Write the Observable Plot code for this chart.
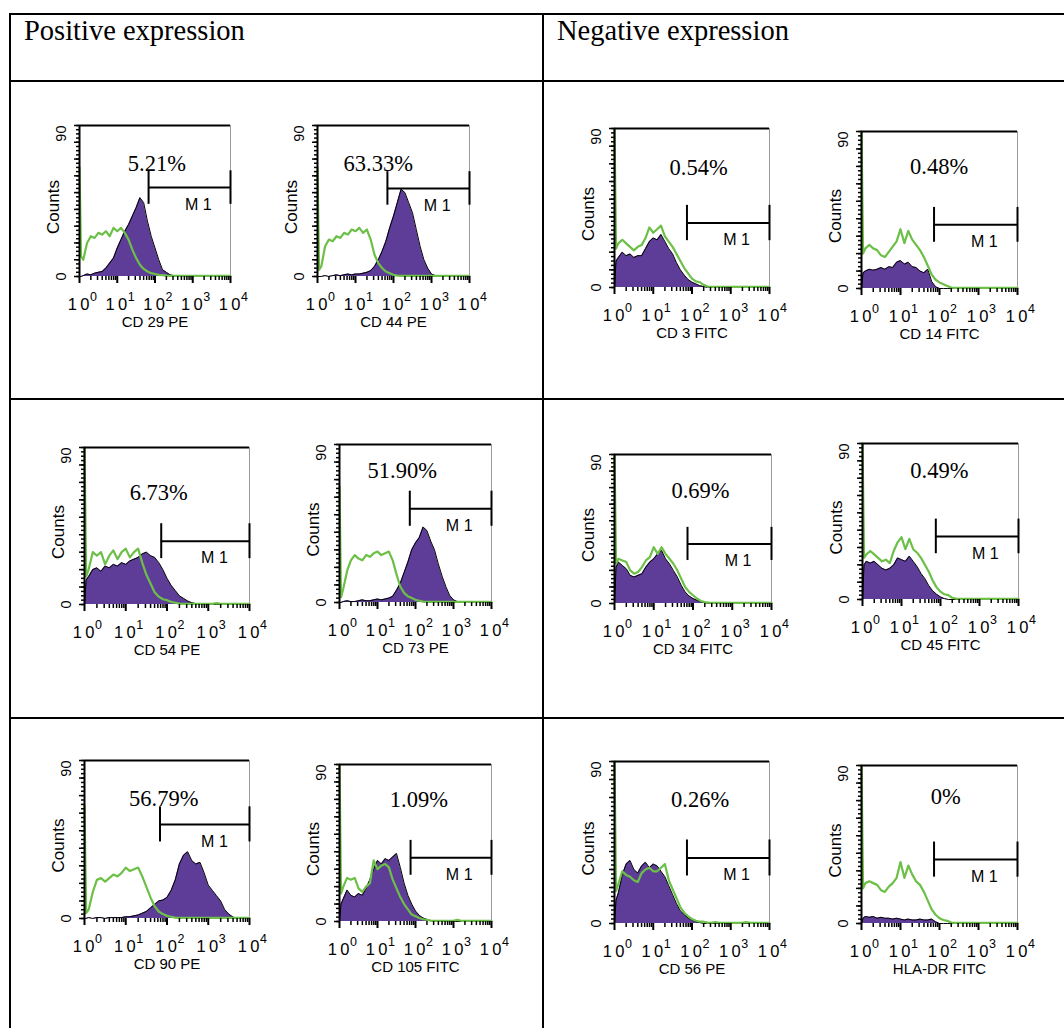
<!DOCTYPE html>
<html><head><meta charset="utf-8">
<script src="https://cdn.jsdelivr.net/npm/d3@7"></script>
<script src="https://cdn.jsdelivr.net/npm/@observablehq/plot@0.6"></script>
<style>
body{margin:0;background:#fff;}
#fig{position:relative;width:1064px;height:1028px;overflow:hidden;background:#fff;}
.ln{position:absolute;background:#000;}
.hdr{position:absolute;font-family:"Liberation Serif","Times New Roman",serif;font-size:28.5px;line-height:28px;color:#000;white-space:nowrap;}
.panel{position:absolute;}
.panel svg{overflow:visible;}
</style></head><body><div id="fig"></div>
<script>
// ---------- data ----------
// log10 fluorescence channel (bin start, decades 10^0 .. 10^4)
const channel = [0,0.04,0.1,0.2,0.3,0.4,0.5,0.6,0.7,0.8,0.9,1.0,1.1,1.2,1.3,1.4,1.5,1.6,1.7,1.8,1.9,2.0,2.1,2.2,2.3,2.4,2.5,2.6,2.7,2.8,2.9,3.0,3.1,3.2,3.3,3.4,3.5,3.6,3.7,3.8,3.9,4.0];
const groups = ["Positive expression", "Negative expression"];
const markers = ["CD 29 PE","CD 44 PE","CD 3 FITC","CD 14 FITC","CD 54 PE","CD 73 PE","CD 34 FITC","CD 45 FITC","CD 90 PE","CD 105 FITC","CD 56 PE","HLA-DR FITC"];
const percents = ["5.21%","63.33%","0.54%","0.48%","6.73%","51.90%","0.69%","0.49%","56.79%","1.09%","0.26%","0%"];
const gateStart = [1.83,1.84,1.87,1.86,1.86,1.85,1.86,1.88,1.83,1.87,1.87,1.86];
const gateCount = [53,52.5,36.5,36.5,36.3,53.4,36,36.4,53.6,36.5,36.4,36.4];
const decadeExponents = [0,1,2,3,4];
const decadeBase = "1\u20090";
const countLabels = [0,90];
const gateLabel = "M 1";

const purpleCD29 = [0,0,0.5,1.5,1,2,2.5,3,5,8, 11,17,22,27,31,36,41,47,44,33, 24,17,10,4,2.5,1,0.5,0,0,0, 0,0,0,0,0,0,0,0,0,0, 0,0];
const greenCD29  = [65,12,10,20,24,23,26,25,27,24, 29,27,29,26,22,16,11,7,4.5,3, 2,1.5,1,0.8,0.5,0.4,0.4,0.4,0.4,0.4, 0.4,0.4,0.4,0.4,0.4,0.4,0.4,0.4,0.4,0.4, 0.4,0.4];
const purpleCD44 = [0,0,0,0.5,0,0.5,1,0.5,1,1.5, 1,1.5,1.5,2,2.5,3.5,6,10,15,21, 29,36,44,52,50,44,38,28,18,10, 5,1.5,0.5,0,0,0,0,0,0,0, 0,0];
const greenCD44  = [65,4,6,18,22,21,24,23,26,25, 28,27,29,26,28,22,13,8,5,3, 2,1,0.5,0.4,0.4,0.4,0.4,0.4,0.4,0.4, 0.4,0.4,0.4,0.4,0.4,0.4,0.4,0.4,0.4,0.4, 0.4,0.4];
const purpleCD3  = [0,15,17,20,18,19,17,18,18,22, 26,28,27,30,26,22,19,14,10,7, 4.5,3,2,1,0.5,0,0,0,0,0, 0,0,0,0,0,0,0,0,0,0, 0,0];
const greenCD3   = [90,22,25,27,25,23,21,23,24,28, 34,31,33,35,29,26,23,19,15,11, 8,5,3.5,3,1.5,0.5,0.4,0.4,0.4,0.4, 0.4,0.4,0.4,0.4,0.4,0.4,0.4,0.4,0.4,0.4, 0.4,0.4];
const purpleCD14 = [0,9,10,11,10.5,11,12,11,12.5,12, 15,16,14,15,12.5,12,10,9,11,4, 1,0,0,0,0,0,0,0,0,0, 0,0,0,0,0,0,0,0,0,0, 0,0];
const greenCD14  = [90,20,23,25,23,22,19,18,21,24, 27,34,26,33,28,25,22,18,13,8, 5,3.5,2.5,1.5,0.5,0.4,0.4,0.4,0.4,0.4, 0.4,0.4,0.4,0.4,0.4,0.4,0.4,0.4,0.4,0.4, 0.4,0.4];
const purpleCD54 = [0,14,16,20,21,19,22,21,23,22, 24,23,25,26,27,29,30,28,27,24, 20,15,11,8,5,3.5,2,1,0.5,0, 0,0,0,0,0,0,0,0,0,0, 0,0];
const greenCD54  = [90,16,20,30,28,30,23,28,31,26, 30,32,27,30,32,24,17,12,7,4.5, 3,2.5,1.5,1,0.5,0.4,0.4,0.4,0.4,0.4, 0.4,0.4,0.4,0.8,0.4,0.4,0.4,0.4,0.4,0.4, 0.4,0.4];
const purpleCD73 = [0,0,0.5,1,0.5,0.5,1,1.5,1,1, 1.5,2,1.5,2,2.5,3.5,7,11,17,23, 30,34,37,43,41,35,30,22,15,9, 4,1.5,0.5,0,0,0,0,0,0,0, 0,0];
const greenCD73  = [66,3,8,18,24,27,25,24,27,26, 28,29,27,28,29,24,16,9,5.5,3.5, 2.5,1.5,1,0.5,0.4,0.4,0.4,0.4,0.4,0.4, 0.4,0.4,0.4,0.4,0.4,0.4,0.4,0.4,0.4,0.4, 0.4,0.4];
const purpleCD34 = [0,22,25,23,21,17,16,17,18,22, 25,27,30,32,27,24,20,16,11,7, 4.5,3,2,1,0.5,0,0,0,0,0, 0,0,0,0,0,0,0,0,0,0, 0,0];
const greenCD34  = [90,24,27,26,25,20,18,19,22,26, 28,34,30,34,30,27,24,20,15,10, 7,5,3,1.5,0.8,0.5,0.4,0.4,0.4,0.4, 0.4,0.4,0.4,0.4,0.4,0.4,0.4,0.4,0.4,0.4, 0.4,0.4];
const purpleCD45 = [0,20,22,21,22,20,18,17,18,20, 24,23,22,25,22,19,15,12,8,5, 3,1.5,0.5,0,0,0,0,0,0,0, 0,0,0,0,0,0,0,0,0,0, 0,0];
const greenCD45  = [90,24,26,28,26,24,22,23,21,28, 33,36,29,35,29,27,24,20,16,11, 7,4.5,3,2.5,1,0.5,0.4,0.4,0.4,0.4, 0.4,0.4,0.4,0.4,0.4,0.4,0.4,0.4,0.4,0.4, 0.4,0.4];
const purpleCD90 = [0,0,0.5,0,0.5,0.5,0,0.5,0.5,0.5, 0.5,1,1,1.5,2,3,4,6,8,10, 10.5,12,16,22,31,36,38,33,31,32, 26,19,16,13,10,5,2.5,0.8,0,0, 0,0];
const greenCD90  = [64,3,5,15,22,23,21,23,25,24, 26,29,27,28,29,24,18,12,7,4, 2.5,1.5,1,0.5,0.4,0.4,0.4,0.4,0.4,0.4, 0.4,0.4,0.4,0.4,0.4,0.4,0.4,0.4,0.4,0.4, 0.4,0.4];
const purpleCD105 = [0,10,13,18,15,14,16,15,19,24, 30,35,33,36,35,37,39,31,22,15, 10,6,3.5,2,1.2,0.5,0,0,0,0, 0,0,0,0,0,0,0,0,0,0, 0,0];
const greenCD105  = [90,16,20,25,24,25,19,17,20,22, 35,30,32,33,31,24,19,14,10,7, 4,3,2,1.3,1,0.5,0.4,0.4,0.4,0.4, 0.4,0.4,1,0.4,0.4,0.4,0.4,0.4,0.4,0.4, 0.4,0.4];
const purpleCD56 = [0,13,17,27,33,35,30,28,32,34, 31,33,32,29,26,21,16,11,7,5, 3,2,1,0.5,0,0,0,0,0,0, 0,0,0,0,0,0,0,0,0,0, 0,0];
const greenCD56  = [90,18,22,29,27,26,24,23,28,30, 31,29,29,31,33,24,19,14,9,6, 4,2.5,1.5,1,1,0.5,0.4,0.8,0.4,0.4, 0.4,0.4,0.4,0.4,0.4,0.8,0.4,0.4,0.4,0.4, 0.4,0.4];
const purpleHLADR = [0,3,4,3.5,4,3,3.5,3,3,2.5, 3,2.5,2,2.5,2,2,2.5,2,2,2.5, 1,0,0,0,0,0,0,0,0,0, 0,0,0,0,0,0,0,0,0,0, 0,0];
const greenHLADR  = [90,20,23,24,23,22,19,18,21,23, 26,35,26,33,28,24,22,18,13,8, 5,3,2,1.5,0.5,0.4,0.4,0.4,0.4,0.4, 0.4,0.4,0.4,0.4,0.4,0.4,0.4,0.4,0.4,0.4, 0.4,0.4];

const purpleSeries = [purpleCD29,purpleCD44,purpleCD3,purpleCD14,purpleCD54,purpleCD73,purpleCD34,purpleCD45,purpleCD90,purpleCD105,purpleCD56,purpleHLADR];
const greenSeries  = [greenCD29,greenCD44,greenCD3,greenCD14,greenCD54,greenCD73,greenCD34,greenCD45,greenCD90,greenCD105,greenCD56,greenHLADR];

// ---------- layout (page pixels of each plot frame: left, top, right, bottom) ----------
const frames = [
  [79,125,230,276],[317,125,469,276],[614,128,769,287],[861,131,1017,288],
  [84,447,249,604],[339,444,491,602],[614,454,771,603],[862,443,1018,599],
  [84,760,249,918],[339,764,491,921],[614,761,769,923],[861,765,1017,923]
];
const percentAt = [[2.05,67],[1.6,67],[2.17,68],[1.99,70],[1.8,64],[1.65,75],[2.19,68],[1.97,74],[1.92,68],[2.09,70],[2.21,69],[2.16,72]];

const PURPLE = "#5e3d98", GREEN = "#6cbf47";
const SANS = "Liberation Sans";
const SERIF = "Liberation Serif";

const fig = document.getElementById("fig");
function line(x, y, w, h) {
  const d = document.createElement("div");
  d.className = "ln";
  Object.assign(d.style, {left: x + "px", top: y + "px", width: w + "px", height: h + "px"});
  fig.appendChild(d);
}
// table grid
line(9, 13, 1064 - 9, 2);
line(9, 13, 2, 1028 - 13);
line(542, 13, 2, 1028 - 13);
line(9, 80, 1064 - 9, 2);
line(9, 398, 1064 - 9, 2);
line(9, 717, 1064 - 9, 2);
[[24, 17], [557, 17]].forEach(([x, y], i) => {
  const d = document.createElement("div");
  d.className = "hdr";
  d.style.left = x + "px"; d.style.top = y + "px";
  d.textContent = groups[i];
  fig.appendChild(d);
});

const minorTicks = [];
for (const d of [0, 1, 2, 3]) for (const k of [2, 3, 4, 5, 6, 7, 8, 9]) minorTicks.push(d + Math.log10(k));
const yFine = d3.range(0, 90.01, 2.5);
const yCoarse = d3.range(0, 90.01, 10);

const ML = 52, MT = 8, MR = 8, MB = 60;
frames.forEach((f, i) => {
  const w = f[2] - f[0], h = f[3] - f[1];
  const rows = channel.map((c, j) => ({c, p: purpleSeries[i][j], g: greenSeries[i][j]}));
  const svg = Plot.plot({
    width: w + ML + MR, height: h + MT + MB,
    marginLeft: ML, marginTop: MT, marginRight: MR, marginBottom: MB,
    x: {type: "linear", domain: [0, 4]},
    y: {type: "linear", domain: [0, 90]},
    style: {fontFamily: SANS, background: "transparent", color: "#000"},
    marks: [
      Plot.areaY(rows, {x: "c", y: "p", curve: "linear", fill: PURPLE}),
      Plot.lineY(rows, {x: "c", y: "p", curve: "linear", stroke: "#000", strokeWidth: 1}),
      Plot.lineY(rows, {x: "c", y: "g", curve: "linear", stroke: GREEN, strokeWidth: 2.2}),
      Plot.ruleY([90], {stroke: "#000", strokeWidth: 2}),
      Plot.ruleX([4], {stroke: "#9a9a9a", strokeWidth: 1}),
      Plot.ruleX([0], {stroke: "#000", strokeWidth: 2}),
      Plot.axisY({ticks: yFine, tickSize: 3, tickFormat: () => "", label: null, strokeWidth: 1.5}),
      Plot.axisY({ticks: yCoarse, tickSize: 5, tickFormat: () => "", label: null, strokeWidth: 1.5}),
      Plot.axisX({ticks: minorTicks, tickSize: 4, tickFormat: () => "", label: null, strokeWidth: 1.5}),
      Plot.axisX({ticks: decadeExponents, tickSize: 7, tickFormat: () => "", label: null, strokeWidth: 2}),
      // tick labels 10^n
      Plot.text(decadeExponents, {x: d => d, text: () => decadeBase, frameAnchor: "bottom", lineAnchor: "middle", textAnchor: "middle", dx: -1, dy: 28, fontSize: 16.5, fontFamily: SANS, fill: "#000"}),
      Plot.text(decadeExponents, {x: d => d, text: d => String(d), frameAnchor: "bottom", lineAnchor: "middle", textAnchor: "start", dx: 10.5, dy: 20, fontSize: 12.5, fontFamily: SANS, fill: "#000"}),
      Plot.text([markers[i]], {frameAnchor: "bottom", lineAnchor: "middle", textAnchor: "middle", dy: 46, fontSize: 15, fontFamily: SANS, fill: "#000"}),
      Plot.text(["Counts"], {frameAnchor: "left", lineAnchor: "middle", textAnchor: "middle", dx: -26, dy: 6, rotate: -90, fontSize: 17, fontFamily: SANS, fill: "#000"}),
      Plot.text([countLabels[1]], {y: d => d, text: d => String(d), frameAnchor: "left", lineAnchor: "middle", textAnchor: "end", dx: -18, rotate: -90, fontSize: 14.5, fontFamily: SANS, fill: "#000"}),
      Plot.text([countLabels[0]], {y: d => d, text: d => String(d), frameAnchor: "left", lineAnchor: "middle", textAnchor: "middle", dx: -18, rotate: -90, fontSize: 14.5, fontFamily: SANS, fill: "#000"}),
      // M1 gate
      Plot.ruleY([gateCount[i]], {x1: gateStart[i], x2: 4, stroke: "#000", strokeWidth: 2}),
      Plot.ruleX([gateStart[i], 4], {y1: gateCount[i] - 10, y2: gateCount[i] + 10, stroke: "#000", strokeWidth: 2}),
      Plot.text([gateLabel], {x: 3.15, y: gateCount[i], dy: 17, fontSize: 16, fontFamily: SANS, fill: "#000"}),
      Plot.text([percents[i]], {x: percentAt[i][0], y: percentAt[i][1], fontSize: 22.5, fontFamily: SERIF, fill: "#000"})
    ]
  });
  const holder = document.createElement("div");
  holder.className = "panel";
  holder.style.left = (f[0] - ML) + "px";
  holder.style.top = (f[1] - MT) + "px";
  holder.appendChild(svg);
  fig.appendChild(holder);
});
</script></body></html>
